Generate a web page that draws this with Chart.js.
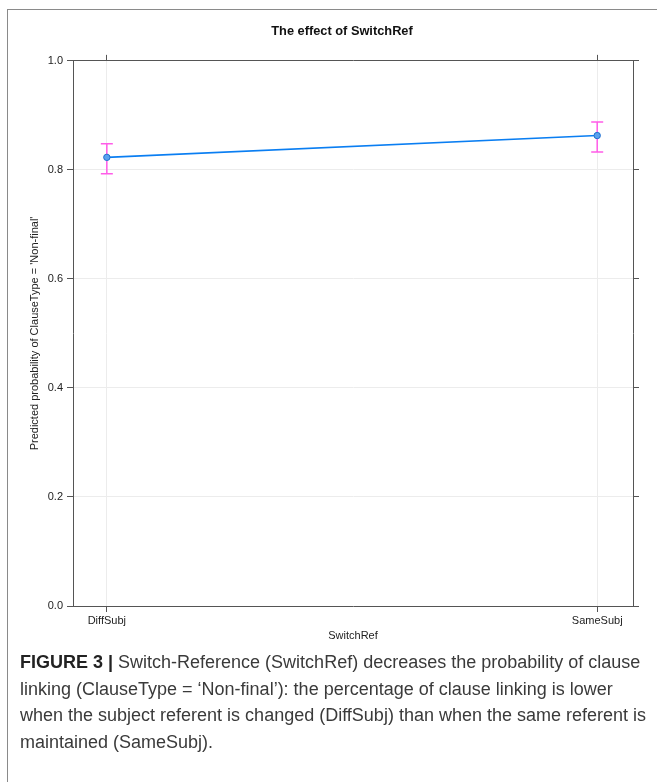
<!DOCTYPE html>
<html>
<head>
<meta charset="utf-8">
<script src="https://cdn.jsdelivr.net/npm/chart.js@4/dist/chart.umd.min.js"></script>
<style>
  html, body { margin:0; padding:0; background:#fff; overflow:hidden; width:657px; height:782px; }
  .frame { position:absolute; left:7px; top:9px; width:720px; height:800px; border-left:1.5px solid #8a8a8a; border-top:1.5px solid #8a8a8a; }
  #chart { position:absolute; left:0; top:0; }
  .caption { position:absolute; left:20px; top:649px; font-family:"Liberation Sans", Arial, sans-serif; font-size:18px; line-height:26.5px; color:#3a3a3a; white-space:nowrap; }
  .caption b { font-weight:bold; color:#222; }
</style>
</head>
<body>
<div class="frame"></div>
<canvas id="chart" width="684" height="650"></canvas>
<div class="caption"><b>FIGURE 3 |</b> Switch-Reference (SwitchRef) decreases the probability of clause<br>linking (ClauseType = ‘Non-final’): the percentage of clause linking is lower<br>when the subject referent is changed (DiffSubj) than when the same referent is<br>maintained (SameSubj).</div>
<script>
(() => {
  const categories = ['DiffSubj', 'SameSubj'];
  const fitValues = [0.823, 0.863];
  const lowerCI = [0.793, 0.833];
  const upperCI = [0.848, 0.888];
  const yTicks = [0, 0.2, 0.4, 0.6, 0.8, 1.0];

  const AXIS = '#555';
  const GRID = '#ececec';
  const FONT = { family: '"Liberation Sans", Arial, sans-serif', size: 11 };

  const catTicks = (scale) => { scale.ticks = categories.map((_, i) => ({ value: i })); };
  const valTicks = (scale) => { scale.ticks = yTicks.map(v => ({ value: v })); };

  // error bars drawn behind the points
  const errorBars = {
    id: 'errorBars',
    beforeDatasetsDraw(chart){
      const { ctx, scales: { x, y } } = chart;
      ctx.save();
      ctx.strokeStyle = '#ff5ce8';
      ctx.lineWidth = 1.5;
      categories.forEach((_, i) => {
        const px = x.getPixelForValue(i);
        const lo = y.getPixelForValue(lowerCI[i]);
        const hi = y.getPixelForValue(upperCI[i]);
        ctx.beginPath();
        ctx.moveTo(px, lo); ctx.lineTo(px, hi);
        ctx.moveTo(px - 6, lo); ctx.lineTo(px + 6, lo);
        ctx.moveTo(px - 6, hi); ctx.lineTo(px + 6, hi);
        ctx.stroke();
      });
      ctx.restore();
    }
  };

  new Chart(document.getElementById('chart'), {
    type: 'line',
    data: {
      datasets: [{
        data: fitValues.map((v, i) => ({ x: i, y: v })),
        borderColor: '#0a7ef2',
        borderWidth: 1.6,
        pointRadius: 3.2,
        pointBackgroundColor: '#5aa2ee',
        pointBorderColor: '#1f6fd0',
        pointBorderWidth: 1,
        tension: 0
      }]
    },
    options: {
      responsive: false,
      animation: false,
      layout: { padding: 0 },
      plugins: {
        legend: { display: false },
        tooltip: { enabled: false },
        title: {
          display: true,
          text: 'The effect of SwitchRef',
          color: '#111',
          font: { family: FONT.family, size: 12.8, weight: 'bold' },
          padding: { top: 23.5, bottom: 12 }
        }
      },
      scales: {
        x: {
          type: 'linear', position: 'bottom', min: -0.069, max: 1.073,
          afterBuildTicks: catTicks,
          afterFit: (s) => { s.height = 44; },
          grid: { color: GRID, tickColor: AXIS, tickLength: 6 },
          border: { color: AXIS, width: 1 },
          ticks: { color: '#222', font: FONT, padding: 2, maxRotation: 0, callback: (v) => categories[v] },
          title: { display: true, text: 'SwitchRef', color: '#222', font: FONT, padding: { top: 7, bottom: 7 } }
        },
        xTop: {
          type: 'linear', position: 'top', min: -0.069, max: 1.073,
          afterBuildTicks: catTicks,
          afterFit: (s) => { s.height = 10; },
          grid: { drawOnChartArea: false, tickColor: AXIS, tickLength: 6 },
          border: { color: AXIS, width: 1 },
          ticks: { display: false }
        },
        y: {
          type: 'linear', position: 'left', min: 0, max: 1,
          afterBuildTicks: valTicks,
          afterFit: (s) => { s.width = 73; },
          grid: { color: GRID, tickColor: AXIS, tickLength: 6 },
          border: { color: AXIS, width: 1 },
          ticks: { color: '#222', font: FONT, padding: 4, callback: (v) => v.toFixed(1) },
          title: { display: true, text: "Predicted probability of ClauseType = 'Non-final'", color: '#222', font: FONT, padding: { top: 28, bottom: 0 } }
        },
        yRight: {
          type: 'linear', position: 'right', min: 0, max: 1,
          afterBuildTicks: valTicks,
          afterFit: (s) => { s.width = 51; },
          grid: { drawOnChartArea: false, tickColor: AXIS, tickLength: 6 },
          border: { color: AXIS, width: 1 },
          ticks: { display: false }
        }
      }
    },
    plugins: [errorBars]
  });
})();
</script>
</body>
</html>
